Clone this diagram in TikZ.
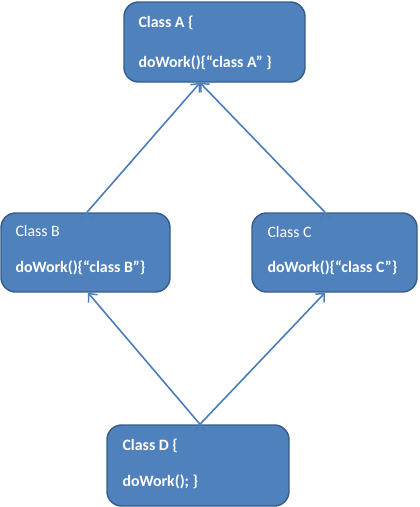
\documentclass[tikz,border=0pt]{standalone}
\usepackage{fontspec}
\setmainfont{Carlito}
\usetikzlibrary{arrows.meta}
\definecolor{boxfill}{HTML}{4F81BD}
\definecolor{boxline}{HTML}{385D8A}
\definecolor{linkline}{HTML}{4A7EBB}
\tikzset{
  classbox/.style={shape=rectangle,rounded corners=11pt,draw=boxline,fill=boxfill,line width=1.1pt,inner sep=0pt},
  classtext/.style={anchor=base west,text=white,inner sep=0pt,font=\fontsize{11.9pt}{14pt}\selectfont},
  link/.style={draw=linkline,line width=1.2pt,-{Straight Barb[length=5pt,width=9pt,line width=1.1pt]}}
}
\begin{document}
\begin{tikzpicture}[x=0.75pt,y=-0.75pt]
            \useasboundingbox (0,0) rectangle (419,507);

            \node[classbox,minimum width=135.75pt,minimum height=60pt] (A) at (214.5,42) {};
            \node[classbox,minimum width=126.75pt,minimum height=59.25pt] (B) at (85.5,252.5) {};
            \node[classbox,minimum width=123.75pt,minimum height=59.25pt] (C) at (334.5,252.5) {};
            \node[classbox,minimum width=136.5pt,minimum height=60.75pt] (D) at (198,465.5) {};

            \node[classtext] (A1) at ([shift={(15,26)}]A.north west) {\bfseries Class A \{};
            \node[classtext] (A2) at ([shift={(15,66)}]A.north west) {\bfseries doWork()\{“class A” \}};
            \node[classtext] (B1) at ([shift={(15,24)}]B.north west) {Class B};
            \node[classtext] (B2) at ([shift={(15,60)}]B.north west) {\bfseries doWork()\{“class B”\}};
            \node[classtext] (C1) at ([shift={(16,25)}]C.north west) {Class C};
            \node[classtext] (C2) at ([shift={(16,60)}]C.north west) {\bfseries doWork()\{“class C”\}};
            \node[classtext] (D1) at ([shift={(16,26)}]D.north west) {\bfseries Class D \{};
            \node[classtext] (D2) at ([shift={(16,62)}]D.north west) {\bfseries doWork(); \}};

            \path [link] ([shift={(2,0)}]D.north) edge ([shift={(2.5,0)}]B.south);
            \path [link] ([shift={(2,0)}]D.north) edge ([shift={(-9.5,0)}]C.south);
            \path [link] ([shift={(1.5,0)}]B.north) edge ([shift={(-14.5,0)}]A.south);
            \path [link] ([shift={(-9.5,0)}]C.north) edge ([shift={(-14.5,0)}]A.south);
        \end{tikzpicture}
\end{document}
